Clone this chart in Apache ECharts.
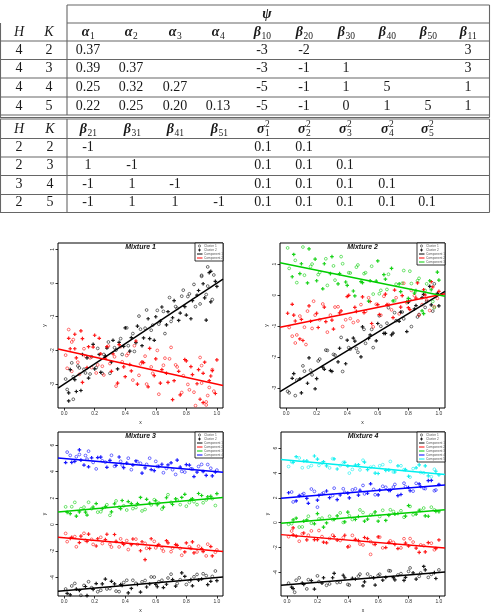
<!DOCTYPE html>
<html>
<head>
<meta charset="utf-8">
<script src="https://cdn.jsdelivr.net/npm/echarts@6/dist/echarts.min.js"></script>
<style>
html, body { margin: 0; padding: 0; background: #fff; }
#chart { width: 494px; height: 614px; }
</style>
</head>
<body>
<div id="chart"></div>
<script>
// ---- table data ----
const heads1 = [['α','1'],['α','2'],['α','3'],['α','4'],['β','10'],['β','20'],['β','30'],['β','40'],['β','50'],['β','11']];
const hCol1 = ['4','4','4','4'];
const kCol1 = ['2','3','4','5'];
const rows1 = [
  ['0.37','','','','-3','-2','','','','3'],
  ['0.39','0.37','','','-3','-1','1','','','3'],
  ['0.25','0.32','0.27','','-5','-1','1','5','','1'],
  ['0.22','0.25','0.20','0.13','-5','-1','0','1','5','1']
];
const heads2 = [['β','21'],['β','31'],['β','41'],['β','51'],['σ','1','2'],['σ','2','2'],['σ','3','2'],['σ','4','2'],['σ','5','2']];
const hCol2 = ['2','2','3','2'];
const kCol2 = ['2','3','4','5'];
const rows2 = [
  ['-1','','','','0.1','0.1','','',''],
  ['1','-1','','','0.1','0.1','0.1','',''],
  ['-1','1','-1','','0.1','0.1','0.1','0.1',''],
  ['-1','1','1','-1','0.1','0.1','0.1','0.1','0.1']
];

// ---- scatter data (x, y); even index = Cluster 1, odd = Cluster 2 ----
const m1c1 = [[0.01,-2.85],[0.03,-3.26],[0.05,-2.37],[0.07,-2.87],[0.09,-2.46],[0.11,-3.19],[0.13,-2.56],[0.15,-2.22],[0.17,-2.70],[0.19,-1.82],[0.21,-2.51],[0.23,-2.12],[0.25,-2.68],[0.27,-2.17],[0.29,-1.75],[0.31,-2.34],[0.33,-1.92],[0.35,-2.55],[0.37,-1.65],[0.39,-1.88],[0.41,-1.33],[0.43,-2.02],[0.45,-1.50],[0.47,-1.77],[0.49,-0.98],[0.51,-1.86],[0.53,-1.34],[0.55,-1.06],[0.57,-1.40],[0.59,-1.70],[0.61,-0.81],[0.63,-1.13],[0.65,-0.84],[0.67,-1.24],[0.69,-0.43],[0.71,-1.03],[0.73,-0.70],[0.75,-1.11],[0.77,-0.39],[0.79,-0.70],[0.81,-0.40],[0.83,-1.06],[0.85,-0.04],[0.87,-0.36],[0.89,-0.62],[0.91,-0.02],[0.93,-0.34],[0.95,0.31],[0.97,-0.49],[0.99,0.05],[0.94,0.48],[0.96,0.35],[0.90,0.20],[0.03,-3.50],[0.06,-3.45],[0.93,-1.10],
  [0.02,-3.16],[0.04,-2.57],[0.06,-2.78],[0.08,-3.22],[0.10,-2.52],[0.12,-2.12],[0.14,-2.67],[0.16,-2.82],[0.18,-2.19],[0.20,-2.55],[0.22,-1.94],[0.24,-2.65],[0.26,-2.12],[0.28,-1.93],[0.30,-2.68],[0.32,-1.70],[0.34,-1.99],[0.36,-1.76],[0.38,-2.12],[0.40,-1.33],[0.42,-1.86],[0.44,-1.62],[0.46,-2.03],[0.48,-1.28],[0.50,-1.37],[0.52,-1.63],[0.54,-0.80],[0.56,-1.65],[0.58,-1.25],[0.60,-1.00],[0.62,-1.22],[0.64,-0.71],[0.66,-1.50],[0.68,-0.85],[0.70,-1.14],[0.72,-0.52],[0.74,-0.75],[0.76,-0.89],[0.78,-0.21],[0.80,-0.95],[0.82,-0.32],[0.84,-0.52],[0.86,-0.70],[0.88,-0.22],[0.90,0.23],[0.92,-0.44],[0.94,-0.09],[0.96,-0.56],[0.98,0.24],[1.00,-0.10]];
const m1c2 = [[0.02,-2.53],[0.04,-1.95],[0.06,-1.68],[0.08,-2.22],[0.10,-2.71],[0.12,-1.65],[0.14,-2.17],[0.16,-1.89],[0.18,-2.51],[0.20,-1.55],[0.22,-2.43],[0.24,-2.10],[0.26,-2.73],[0.28,-1.89],[0.30,-2.39],[0.32,-2.10],[0.34,-3.06],[0.36,-1.83],[0.38,-2.34],[0.40,-2.78],[0.42,-2.09],[0.44,-2.61],[0.46,-1.86],[0.48,-3.00],[0.50,-2.40],[0.52,-2.36],[0.54,-3.00],[0.56,-1.94],[0.58,-2.68],[0.60,-2.25],[0.62,-3.30],[0.64,-2.57],[0.66,-2.23],[0.68,-2.95],[0.70,-1.91],[0.72,-2.90],[0.74,-2.49],[0.76,-3.32],[0.78,-2.75],[0.80,-2.31],[0.82,-3.17],[0.84,-2.72],[0.86,-3.64],[0.88,-2.57],[0.90,-2.97],[0.92,-2.35],[0.94,-3.34],[0.96,-2.76],[0.98,-3.21],[1.00,-2.28],[0.03,-1.38],[0.07,-1.52],[0.05,-1.75],[0.91,-3.55],[0.93,-3.62],[0.89,-3.45],[0.95,-3.10],[0.97,-2.60],[0.90,-2.45],[0.12,-2.95],
  [0.01,-2.14],[0.03,-1.64],[0.05,-2.62],[0.07,-1.95],[0.09,-2.35],[0.11,-1.42],[0.13,-1.95],[0.15,-2.51],[0.17,-2.22],[0.19,-1.90],[0.21,-2.67],[0.23,-1.64],[0.25,-2.47],[0.27,-2.23],[0.29,-1.87],[0.31,-2.62],[0.33,-2.19],[0.35,-2.97],[0.37,-1.89],[0.39,-2.49],[0.41,-2.15],[0.43,-2.42],[0.45,-2.88],[0.47,-1.72],[0.49,-2.74],[0.51,-2.34],[0.53,-2.17],[0.55,-3.08],[0.57,-2.49],[0.59,-2.75],[0.61,-2.00],[0.63,-2.97],[0.65,-2.44],[0.67,-2.68],[0.69,-2.25],[0.71,-3.46],[0.73,-2.43],[0.75,-2.62],[0.77,-3.25],[0.79,-2.27],[0.81,-3.01],[0.83,-2.48],[0.85,-3.24],[0.87,-2.99],[0.89,-2.21],[0.91,-2.68],[0.93,-3.53],[0.95,-2.90],[0.97,-2.57],[0.99,-3.28]];

const m2c1 = [[0.01,-3.11],[0.04,-2.69],[0.06,-3.25],[0.09,-2.71],[0.11,-2.29],[0.14,-2.85],[0.16,-2.43],[0.19,-3.03],[0.21,-2.13],[0.24,-2.33],[0.26,-1.78],[0.29,-2.44],[0.31,-1.92],[0.34,-2.16],[0.36,-1.37],[0.39,-2.22],[0.41,-1.70],[0.44,-1.39],[0.46,-1.73],[0.49,-2.00],[0.51,-1.11],[0.54,-1.40],[0.56,-1.11],[0.59,-1.48],[0.61,-0.67],[0.64,-1.24],[0.66,-0.91],[0.69,-1.29],[0.71,-0.57],[0.74,-0.85],[0.76,-0.55],[0.79,-1.18],[0.81,-0.16],[0.84,-0.45],[0.86,-0.71],[0.89,-0.08],[0.91,-0.40],[0.94,0.28],[0.96,-0.52],[0.99,0.05],
  [0.02,-3.16],[0.05,-2.54],[0.07,-2.75],[0.10,-3.16],[0.12,-2.46],[0.15,-2.03],[0.17,-2.58],[0.20,-2.70],[0.22,-2.07],[0.25,-2.40],[0.27,-1.79],[0.30,-2.47],[0.32,-1.94],[0.35,-1.72],[0.37,-2.47],[0.40,-1.46],[0.42,-1.75],[0.45,-1.49],[0.47,-1.85],[0.50,-1.03],[0.52,-1.56],[0.55,-1.29],[0.57,-1.70],[0.60,-0.92],[0.62,-1.01],[0.65,-1.24],[0.67,-0.41],[0.70,-1.23],[0.72,-0.83],[0.75,-0.55],[0.77,-0.77],[0.80,-0.23],[0.82,-1.02],[0.85,-0.34],[0.87,-0.63],[0.90,0.02],[0.92,-0.21],[0.95,-0.32],[0.97,0.36],[1.00,-0.35]];
const m2c2 = [[0.02,-1.05],[0.05,-0.65],[0.07,-1.29],[0.10,-0.79],[0.12,-1.04],[0.15,-0.35],[0.17,-1.08],[0.20,-0.59],[0.22,-0.80],[0.25,-0.39],[0.27,-1.20],[0.30,-0.81],[0.32,-0.39],[0.35,-0.58],[0.37,-1.02],[0.40,-0.05],[0.42,-0.76],[0.45,-0.40],[0.47,-0.84],[0.50,-0.06],[0.52,-0.53],[0.55,-0.21],[0.57,-1.03],[0.60,-0.31],[0.62,-0.65],[0.65,0.03],[0.67,-0.31],[0.70,-0.73],[0.72,-0.09],[0.75,-0.39],[0.77,0.38],[0.80,-0.41],[0.82,0.15],[0.85,-0.10],[0.87,-0.65],[0.90,0.17],[0.92,-0.16],[0.95,0.43],[0.97,-0.38],[1.00,0.12],[0.06,-1.55],[0.09,-1.42],[0.13,-1.60],[0.04,-0.30],[0.18,-0.20],
  [0.01,-0.59],[0.04,-1.33],[0.06,-0.84],[0.09,-0.68],[0.11,-1.47],[0.14,-0.52],[0.16,-0.85],[0.19,-0.65],[0.21,-1.05],[0.24,-0.29],[0.26,-0.86],[0.29,-0.65],[0.31,-1.10],[0.34,-0.38],[0.36,-0.51],[0.39,-0.80],[0.41,-0.01],[0.44,-0.89],[0.46,-0.53],[0.49,-0.31],[0.51,-0.57],[0.54,-0.09],[0.56,-0.92],[0.59,-0.30],[0.61,-0.63],[0.64,-0.04],[0.66,-0.31],[0.69,-0.48],[0.71,0.16],[0.74,-0.61],[0.76,-0.02],[0.79,-0.25],[0.81,-0.47],[0.84,-0.02],[0.86,0.39],[0.89,-0.31],[0.91,0.00],[0.94,-0.50],[0.96,0.26],[0.99,-0.11]];
const m2c3 = [[0.01,1.52],[0.04,0.59],[0.06,1.12],[0.09,0.69],[0.11,1.55],[0.14,0.39],[0.16,0.92],[0.19,1.16],[0.21,0.66],[0.24,0.20],[0.26,1.17],[0.29,0.69],[0.31,0.94],[0.34,0.36],[0.36,1.24],[0.39,0.42],[0.41,0.72],[0.44,0.13],[0.46,0.90],[0.49,0.43],[0.51,0.69],[0.54,-0.20],[0.56,0.93],[0.59,0.45],[0.61,0.04],[0.64,0.66],[0.66,0.18],[0.69,0.86],[0.71,-0.19],[0.74,0.36],[0.76,0.38],[0.79,-0.21],[0.81,0.77],[0.84,0.06],[0.86,0.46],[0.89,-0.51],[0.91,0.15],[0.94,0.46],[0.96,-0.21],[0.99,0.74],
  [0.02,0.86],[0.05,1.31],[0.07,0.40],[0.10,1.01],[0.12,0.64],[0.15,1.49],[0.17,1.00],[0.20,0.46],[0.22,0.73],[0.25,1.01],[0.27,0.31],[0.30,1.24],[0.32,0.48],[0.35,0.69],[0.37,1.01],[0.40,0.31],[0.42,0.71],[0.45,-0.03],[0.47,0.97],[0.50,0.40],[0.52,0.72],[0.55,0.46],[0.57,0.03],[0.60,1.10],[0.62,0.15],[0.65,0.51],[0.67,0.67],[0.70,-0.19],[0.72,0.35],[0.75,0.11],[0.77,0.79],[0.80,-0.11],[0.82,0.37],[0.85,0.14],[0.87,0.54],[0.90,-0.60],[0.92,0.36],[0.95,0.17],[0.97,-0.41],[1.00,0.48]];

const m3c1 = [[0.01,-4.87],[0.04,-5.31],[0.07,-4.45],[0.10,-4.98],[0.13,-4.60],[0.15,-5.37],[0.18,-4.77],[0.21,-4.46],[0.24,-4.97],[0.27,-4.12],[0.30,-4.84],[0.33,-4.48],[0.36,-5.07],[0.38,-4.60],[0.41,-4.21],[0.44,-4.83],[0.47,-4.44],[0.50,-5.10],[0.53,-4.23],[0.56,-4.49],[0.59,-3.97],[0.61,-4.70],[0.64,-4.21],[0.67,-4.51],[0.70,-3.75],[0.73,-4.66],[0.76,-4.17],[0.79,-3.92],[0.82,-4.29],[0.84,-4.63],[0.87,-3.77],[0.90,-4.12],[0.93,-3.86],[0.96,-4.29],[0.99,-3.51],
  [0.02,-5.20],[0.05,-4.64],[0.08,-4.88],[0.11,-5.35],[0.14,-4.68],[0.16,-4.32],[0.19,-4.90],[0.22,-5.08],[0.25,-4.48],[0.28,-4.87],[0.31,-4.29],[0.34,-5.03],[0.37,-4.53],[0.39,-4.38],[0.42,-5.16],[0.45,-4.21],[0.48,-4.53],[0.51,-4.33],[0.54,-4.72],[0.57,-3.96],[0.60,-4.52],[0.62,-4.32],[0.65,-4.76],[0.68,-4.04],[0.71,-4.16],[0.74,-4.45],[0.77,-3.65],[0.80,-4.53],[0.83,-4.16],[0.85,-3.95],[0.88,-4.20],[0.91,-3.72],[0.94,-4.54],[0.97,-3.92],[1.00,-4.24]];
const m3c2 = [[0.02,-1.29],[0.05,-0.96],[0.08,-1.68],[0.11,-0.87],[0.14,-1.19],[0.16,-0.72],[0.19,-1.50],[0.22,-1.07],[0.25,-1.43],[0.28,-0.73],[0.31,-1.70],[0.34,-1.27],[0.37,-1.08],[0.39,-1.50],[0.42,-1.89],[0.45,-1.09],[0.48,-1.50],[0.51,-1.30],[0.54,-1.79],[0.57,-1.07],[0.60,-1.76],[0.62,-1.51],[0.65,-2.01],[0.68,-1.38],[0.71,-1.78],[0.74,-1.57],[0.77,-2.32],[0.80,-1.39],[0.83,-1.80],[0.85,-2.14],[0.88,-1.63],[0.91,-2.04],[0.94,-1.48],[0.97,-2.37],[1.00,-1.92],[0.53,-2.65],
  [0.01,-0.67],[0.04,-1.05],[0.07,-0.91],[0.10,-1.36],[0.13,-0.66],[0.15,-1.27],[0.18,-1.12],[0.21,-1.62],[0.24,-0.96],[0.27,-1.14],[0.30,-1.49],[0.33,-0.75],[0.36,-1.69],[0.38,-1.37],[0.41,-1.21],[0.44,-1.52],[0.47,-1.10],[0.50,-1.98],[0.53,-1.42],[0.56,-1.80],[0.59,-1.27],[0.61,-1.58],[0.64,-1.81],[0.67,-1.22],[0.70,-2.05],[0.73,-1.51],[0.76,-1.80],[0.79,-2.07],[0.82,-1.68],[0.84,-1.31],[0.87,-2.07],[0.90,-1.81],[0.93,-2.37],[0.96,-1.66],[0.99,-2.09]];
const m3c3 = [[0.01,1.34],[0.04,0.83],[0.07,1.68],[0.10,0.96],[0.13,1.32],[0.15,0.72],[0.18,1.20],[0.21,1.59],[0.24,0.97],[0.27,1.36],[0.30,0.70],[0.33,1.57],[0.36,1.31],[0.38,1.82],[0.41,1.10],[0.44,1.59],[0.47,1.29],[0.50,2.05],[0.53,1.14],[0.56,1.63],[0.59,1.88],[0.61,1.50],[0.64,1.17],[0.67,2.03],[0.70,1.68],[0.73,1.94],[0.76,1.51],[0.79,2.29],[0.82,1.66],[0.84,1.95],[0.87,1.51],[0.90,2.20],[0.93,1.86],[0.96,2.13],[0.99,1.44],
  [0.02,0.92],[0.05,1.35],[0.08,0.64],[0.11,1.20],[0.14,0.94],[0.16,1.69],[0.19,1.33],[0.22,0.94],[0.25,1.21],[0.28,1.50],[0.31,0.96],[0.34,1.79],[0.37,1.20],[0.39,1.42],[0.42,1.74],[0.45,1.21],[0.48,1.59],[0.51,1.03],[0.54,1.91],[0.57,1.49],[0.60,1.80],[0.62,1.63],[0.65,1.32],[0.68,2.26],[0.71,1.52],[0.74,1.87],[0.77,2.05],[0.80,1.39],[0.83,1.89],[0.85,1.73],[0.88,2.35],[0.91,1.65],[0.94,2.10],[0.97,1.96],[1.00,2.34]];
const m3c4 = [[0.02,5.48],[0.05,4.70],[0.08,5.13],[0.11,4.87],[0.14,5.22],[0.16,4.37],[0.19,4.70],[0.22,5.07],[0.25,4.82],[0.28,4.33],[0.31,5.24],[0.34,4.48],[0.37,4.78],[0.39,4.30],[0.42,5.02],[0.45,4.50],[0.48,4.76],[0.51,3.89],[0.54,4.55],[0.57,4.16],[0.60,4.78],[0.62,4.40],[0.65,3.92],[0.68,4.51],[0.71,4.15],[0.74,4.87],[0.77,4.02],[0.80,4.53],[0.83,4.22],[0.85,3.63],[0.88,4.39],[0.91,4.01],[0.94,4.54],[0.97,3.68],[1.00,4.12],[0.10,5.65],[0.16,5.55],
  [0.01,4.69],[0.04,5.23],[0.07,4.78],[0.10,5.30],[0.13,4.50],[0.15,4.95],[0.18,5.05],[0.21,4.21],[0.24,5.10],[0.27,4.72],[0.30,4.86],[0.33,4.41],[0.36,5.11],[0.38,4.50],[0.41,4.65],[0.44,4.15],[0.47,4.81],[0.50,4.63],[0.53,4.28],[0.56,5.02],[0.59,4.08],[0.61,4.40],[0.64,4.56],[0.67,4.25],[0.70,4.67],[0.73,3.79],[0.76,4.35],[0.79,3.97],[0.82,4.50],[0.84,4.19],[0.87,3.96],[0.90,4.55],[0.93,3.72],[0.96,4.26],[0.99,3.97]];

const m4c1 = [[0.01,-4.87],[0.04,-5.31],[0.08,-4.44],[0.11,-4.97],[0.14,-4.59],[0.18,-5.34],[0.21,-4.74],[0.24,-4.43],[0.28,-4.93],[0.31,-4.08],[0.35,-4.79],[0.38,-4.43],[0.41,-5.02],[0.45,-4.53],[0.48,-4.14],[0.51,-4.76],[0.55,-4.36],[0.58,-5.02],[0.61,-4.15],[0.65,-4.40],[0.68,-3.88],[0.71,-4.60],[0.75,-4.10],[0.78,-4.40],[0.81,-3.64],[0.85,-4.54],[0.88,-4.05],[0.91,-3.80],[0.95,-4.16],[0.98,-4.49],[0.05,-5.60],
  [0.03,-5.19],[0.06,-4.63],[0.10,-4.86],[0.13,-5.33],[0.16,-4.66],[0.20,-4.28],[0.23,-4.86],[0.26,-5.04],[0.30,-4.43],[0.33,-4.82],[0.37,-4.23],[0.40,-4.97],[0.43,-4.47],[0.47,-4.30],[0.50,-5.08],[0.53,-4.13],[0.57,-4.44],[0.60,-4.24],[0.63,-4.63],[0.67,-3.86],[0.70,-4.42],[0.73,-4.21],[0.77,-4.64],[0.80,-3.92],[0.83,-4.04],[0.87,-4.32],[0.90,-3.52],[0.93,-4.40],[0.97,-4.02],[1.00,-3.80]];
const m4c2 = [[0.03,-0.67],[0.06,-1.08],[0.10,-0.89],[0.13,-1.38],[0.16,-0.66],[0.20,-1.36],[0.23,-1.12],[0.26,-1.62],[0.30,-1.00],[0.33,-1.40],[0.37,-1.20],[0.40,-1.95],[0.43,-1.02],[0.47,-1.44],[0.50,-1.79],[0.53,-1.28],[0.57,-1.70],[0.60,-1.14],[0.63,-2.03],[0.67,-1.59],[0.70,-1.58],[0.73,-2.08],[0.77,-1.29],[0.80,-1.88],[0.83,-1.56],[0.87,-2.39],[0.90,-1.85],[0.93,-1.60],[0.97,-2.18],[1.00,-1.39],[0.55,-2.55],[0.04,-0.42],
  [0.01,-1.13],[0.04,-0.98],[0.08,-1.49],[0.11,-0.83],[0.14,-1.01],[0.18,-1.37],[0.21,-0.63],[0.24,-1.57],[0.28,-1.27],[0.31,-1.11],[0.35,-1.43],[0.38,-1.01],[0.41,-1.89],[0.45,-1.34],[0.48,-1.72],[0.51,-1.19],[0.55,-1.52],[0.58,-1.75],[0.61,-1.16],[0.65,-2.00],[0.68,-1.46],[0.71,-1.75],[0.75,-2.03],[0.78,-1.64],[0.81,-1.28],[0.85,-2.05],[0.88,-1.79],[0.91,-2.35],[0.95,-1.65],[0.98,-2.08]];
const m4c3 = [[0.01,-0.13],[0.04,0.23],[0.08,-0.35],[0.11,0.13],[0.14,0.52],[0.18,-0.09],[0.21,0.30],[0.24,-0.36],[0.28,0.52],[0.31,0.26],[0.35,0.79],[0.38,0.07],[0.41,0.56],[0.45,0.27],[0.48,1.03],[0.51,0.12],[0.55,0.62],[0.58,0.87],[0.61,0.50],[0.65,0.18],[0.68,1.04],[0.71,0.69],[0.75,0.96],[0.78,0.53],[0.81,1.31],[0.85,0.69],[0.88,0.99],[0.91,0.55],[0.95,1.25],[0.98,0.91],
  [0.03,-0.07],[0.06,0.36],[0.10,-0.34],[0.13,0.22],[0.16,-0.04],[0.20,0.73],[0.23,0.37],[0.26,-0.02],[0.30,0.26],[0.33,0.55],[0.37,0.02],[0.40,0.85],[0.43,0.26],[0.47,0.50],[0.50,0.82],[0.53,0.29],[0.57,0.68],[0.60,0.12],[0.63,1.00],[0.67,0.59],[0.70,0.90],[0.73,0.74],[0.77,0.44],[0.80,1.38],[0.83,0.64],[0.87,1.00],[0.90,1.18],[0.93,0.52],[0.97,1.03],[1.00,0.88]];
const m4c4 = [[0.03,2.47],[0.06,1.75],[0.10,2.25],[0.13,1.95],[0.16,2.71],[0.20,1.81],[0.23,2.30],[0.26,2.55],[0.30,2.19],[0.33,1.86],[0.37,2.73],[0.40,2.38],[0.43,2.64],[0.47,2.22],[0.50,3.00],[0.53,2.37],[0.57,2.68],[0.60,2.24],[0.63,2.93],[0.67,2.60],[0.70,2.87],[0.73,2.18],[0.77,3.18],[0.80,2.83],[0.83,2.54],[0.87,3.12],[0.90,2.77],[0.93,3.39],[0.97,2.57],[1.00,3.08],[0.20,1.25],
  [0.01,2.41],[0.04,1.67],[0.08,2.18],[0.11,2.34],[0.14,1.56],[0.18,2.52],[0.21,2.20],[0.24,2.40],[0.28,2.02],[0.31,2.78],[0.35,2.23],[0.38,2.44],[0.41,2.00],[0.45,2.73],[0.48,2.61],[0.51,2.32],[0.55,3.13],[0.58,2.25],[0.61,2.62],[0.65,2.85],[0.68,2.60],[0.71,3.08],[0.75,2.27],[0.78,2.89],[0.81,2.57],[0.85,3.17],[0.88,2.91],[0.91,2.74],[0.95,3.40],[0.98,2.63]];
const m4c5 = [[0.01,4.52],[0.04,4.85],[0.08,5.21],[0.11,4.96],[0.14,4.47],[0.18,5.37],[0.21,4.61],[0.24,4.91],[0.28,4.41],[0.31,5.13],[0.35,4.60],[0.38,4.86],[0.41,3.99],[0.45,4.64],[0.48,4.25],[0.51,4.87],[0.55,4.47],[0.58,3.99],[0.61,4.58],[0.65,4.21],[0.68,4.93],[0.71,4.08],[0.75,4.58],[0.78,4.27],[0.81,3.67],[0.85,4.42],[0.88,4.04],[0.91,4.57],[0.95,3.70],[0.98,4.14],
  [0.03,4.89],[0.06,5.31],[0.10,4.42],[0.13,4.98],[0.16,4.60],[0.20,5.12],[0.23,4.80],[0.26,4.57],[0.30,5.15],[0.33,4.32],[0.37,4.85],[0.40,4.56],[0.43,4.29],[0.47,4.67],[0.50,5.03],[0.53,4.27],[0.57,4.52],[0.60,3.96],[0.63,4.67],[0.67,4.23],[0.70,4.08],[0.73,4.58],[0.77,4.27],[0.80,3.74],[0.83,4.35],[0.87,4.65],[0.90,4.01],[0.93,3.77],[0.97,4.30],[1.00,3.85]];

// fitted lines per panel: [intercept, slope]
const m1Fit = [[-3, 3], [-2, -1]];
const m2Fit = [[-3, 3], [-1, 1], [1, -1]];
const m3Fit = [[-5, 1], [-1, -1], [1, 1], [5, -1]];
const m4Fit = [[-5, 1], [-1, -1], [0, 1], [2, 1], [5.04, -1.12]];

const xTicks = [0, 0.2, 0.4, 0.6, 0.8, 1.0];
const yTicks = [[-3, -2, -1, 0, 1], [-3, -2, -1, 0, 1], [-4, -2, 0, 2, 4, 6], [-4, -2, 0, 2, 4, 6]];
const xRange = [-0.04, 1.04];
const yRanges = [[-3.71, 1.19], [-3.65, 1.68], [-5.4, 7.0], [-5.9, 7.3]];
const titles = ['Mixture 1', 'Mixture 2', 'Mixture 3', 'Mixture 4'];
const legendNames = ['Cluster 1', 'Cluster 2', 'Component 1', 'Component 2', 'Component 3', 'Component 4', 'Component 5'];

const comps = [[m1c1, m1c2], [m2c1, m2c2, m2c3], [m3c1, m3c2, m3c3, m3c4], [m4c1, m4c2, m4c3, m4c4, m4c5]];
const fits = [m1Fit, m2Fit, m3Fit, m4Fit];
const colors = ['#000000', '#ff0000', '#00cd00', '#0000ff', '#00eeee'];

const panels = [
  { left: 58, top: 243, width: 165, height: 165 },
  { left: 280, top: 243, width: 165, height: 165 },
  { left: 58, top: 432, width: 165, height: 165 },
  { left: 281, top: 432, width: 164, height: 165 }
];

const SERIF = '"Liberation Serif", "DejaVu Serif", serif';
const SANS = '"Liberation Sans", Arial, sans-serif';
const PLUS = 'path://M2,0H4V2H6V4H4V6H2V4H0V2H2Z';

function txt(x, y, s, o) {
  return {
    type: 'text', x: x, y: y, silent: true, z: 100,
    style: Object.assign({
      text: s, fill: '#1a1a1a', fontFamily: SERIF, fontSize: 14,
      align: 'center', verticalAlign: 'middle'
    }, o || {})
  };
}
function hline(x1, x2, y, w) {
  return { type: 'line', silent: true, shape: { x1: x1, y1: y, x2: x2, y2: y }, style: { stroke: '#666', lineWidth: w || 1.1 } };
}
function vline(x, y1, y2) {
  return { type: 'line', silent: true, shape: { x1: x, y1: y1, x2: x, y2: y2 }, style: { stroke: '#666', lineWidth: 1.1 } };
}
function mathHead(cx, cy, h) {
  const sw = h[1].length * 5;
  const bx = cx - (sw - 8) / 2;
  const out = [
    txt(bx, cy, h[0], { align: 'right', fontWeight: 'bold', fontStyle: 'italic' }),
    txt(bx + 0.5, cy + 4, h[1], { align: 'left', fontSize: 9.5 })
  ];
  if (h[2]) out.push(txt(bx + 0.5, cy - 5, h[2], { align: 'left', fontSize: 9.5 }));
  return out;
}

const graphic = [];
// table 1
const cols1 = [88, 131, 175, 218, 262, 304, 346, 387, 428, 468];
const rowY1 = [50, 68.5, 87, 106];
graphic.push(hline(67, 489.5, 5), hline(67, 489.5, 23), hline(0, 489.5, 41),
  hline(0, 489.5, 59.5), hline(0, 489.5, 78), hline(0, 489.5, 97),
  hline(0, 489.5, 115), hline(0, 489.5, 117.5),
  vline(67, 5, 115), vline(489.5, 5, 117.5), vline(0.5, 23, 117.5));
graphic.push(txt(267, 14.5, 'ψ', { fontWeight: 'bold', fontStyle: 'italic' }));
graphic.push(txt(19, 32, 'H', { fontStyle: 'italic' }), txt(49, 32, 'K', { fontStyle: 'italic' }));
heads1.forEach((h, i) => mathHead(cols1[i], 32, h).forEach(e => graphic.push(e)));
rows1.forEach((r, j) => {
  graphic.push(txt(19, rowY1[j], hCol1[j]), txt(49, rowY1[j], kCol1[j]));
  r.forEach((v, i) => { if (v) graphic.push(txt(cols1[i], rowY1[j], v)); });
});
// table 2
const cols2 = [88, 132, 175, 219, 263, 304, 345, 387, 427];
const rowY2 = [147, 165.5, 184, 202.5];
graphic.push(hline(0, 489.5, 119), hline(0, 489.5, 138.5), hline(0, 489.5, 157),
  hline(0, 489.5, 175.5), hline(0, 489.5, 194.5), hline(0, 489.5, 212.5),
  vline(67, 119, 212.5), vline(0.5, 119, 212.5), vline(489.5, 119, 212.5));
graphic.push(txt(19, 129, 'H', { fontStyle: 'italic' }), txt(50, 129, 'K', { fontStyle: 'italic' }));
heads2.forEach((h, i) => mathHead(cols2[i], 129, h).forEach(e => graphic.push(e)));
rows2.forEach((r, j) => {
  graphic.push(txt(19, rowY2[j], hCol2[j]), txt(50, rowY2[j], kCol2[j]));
  r.forEach((v, i) => { if (v) graphic.push(txt(cols2[i], rowY2[j], v)); });
});

// panel titles and legends
panels.forEach((g, p) => {
  graphic.push(txt(g.left + g.width / 2, g.top + 4, titles[p], {
    fontFamily: SANS, fontSize: 7, fontWeight: 'bold', fontStyle: 'italic', fill: '#111'
  }));
  const n = comps[p].length + 2;
  const w = 28, rh = 4, x0 = g.left + g.width - w, y0 = g.top;
  graphic.push({ type: 'rect', z: 100, silent: true, shape: { x: x0, y: y0, width: w, height: 2 + rh * n },
    style: { fill: '#fff', stroke: '#000', lineWidth: 0.8 } });
  for (let i = 0; i < n; i++) {
    const cy = y0 + 1 + rh * i + rh / 2;
    if (i === 0) {
      graphic.push({ type: 'circle', z: 100, silent: true, shape: { cx: x0 + 4.5, cy: cy, r: 1.1 }, style: { fill: 'none', stroke: '#000', lineWidth: 0.5 } });
    } else if (i === 1) {
      graphic.push({ type: 'line', z: 100, silent: true, shape: { x1: x0 + 3, y1: cy, x2: x0 + 6, y2: cy }, style: { stroke: '#000', lineWidth: 0.8 } });
      graphic.push({ type: 'line', z: 100, silent: true, shape: { x1: x0 + 4.5, y1: cy - 1.5, x2: x0 + 4.5, y2: cy + 1.5 }, style: { stroke: '#000', lineWidth: 0.8 } });
    } else {
      graphic.push({ type: 'line', z: 100, silent: true, shape: { x1: x0 + 2, y1: cy, x2: x0 + 7.5, y2: cy }, style: { stroke: colors[i - 2], lineWidth: 1 } });
    }
    graphic.push(txt(x0 + 9, cy, legendNames[i], { fontFamily: SANS, fontSize: 3.2, fill: '#555', align: 'left' }));
  }
});

const grid = panels.map(g => Object.assign({ show: true, borderColor: '#000', borderWidth: 1, backgroundColor: 'transparent' }, g));
const xAxis = panels.map((g, p) => ({
  type: 'value', gridIndex: p, min: xRange[0], max: xRange[1],
  axisLine: { show: false, onZero: false },
  splitLine: { show: false },
  axisTick: { show: true, length: 2.5, customValues: xTicks, lineStyle: { color: '#000', width: 0.8 } },
  axisLabel: { customValues: xTicks, fontSize: 5, color: '#333', margin: 3, fontFamily: SANS, formatter: v => v.toFixed(1) },
  name: 'x', nameLocation: 'middle', nameGap: 12, nameTextStyle: { fontSize: 5, color: '#222', fontFamily: SANS }
}));
const yAxis = panels.map((g, p) => ({
  type: 'value', gridIndex: p, min: yRanges[p][0], max: yRanges[p][1],
  axisLine: { show: false, onZero: false },
  splitLine: { show: false },
  axisTick: { show: true, length: 2.5, customValues: yTicks[p], lineStyle: { color: '#000', width: 0.8 } },
  axisLabel: { customValues: yTicks[p], fontSize: 5, color: '#333', margin: 3, rotate: 90, fontFamily: SANS },
  name: 'y', nameLocation: 'middle', nameGap: 11, nameTextStyle: { fontSize: 5, color: '#222', fontFamily: SANS }
}));

const series = [];
comps.forEach((list, p) => {
  list.forEach((pts, k) => {
    series.push({
      type: 'scatter', xAxisIndex: p, yAxisIndex: p, silent: true, z: 2,
      data: pts.filter((d, i) => i % 2 === 0),
      symbol: 'circle', symbolSize: 2.8,
      itemStyle: { color: 'rgba(0,0,0,0)', borderColor: colors[k], borderWidth: 0.8, opacity: 0.7 }
    });
    series.push({
      type: 'scatter', xAxisIndex: p, yAxisIndex: p, silent: true, z: 3,
      data: pts.filter((d, i) => i % 2 === 1),
      symbol: PLUS, symbolSize: 3.6,
      itemStyle: { color: colors[k], opacity: 0.9 }
    });
    const f = fits[p][k];
    series.push({
      type: 'line', xAxisIndex: p, yAxisIndex: p, silent: true, z: 4,
      data: xRange.map(x => [x, f[0] + f[1] * x]),
      symbol: 'none', lineStyle: { color: colors[k], width: 1.5 }
    });
  });
});

const chart = echarts.init(document.getElementById('chart'), null, { renderer: 'canvas' });
chart.setOption({
  animation: false,
  backgroundColor: '#fff',
  grid: grid,
  xAxis: xAxis,
  yAxis: yAxis,
  series: series,
  graphic: graphic
});
</script>
</body>
</html>
